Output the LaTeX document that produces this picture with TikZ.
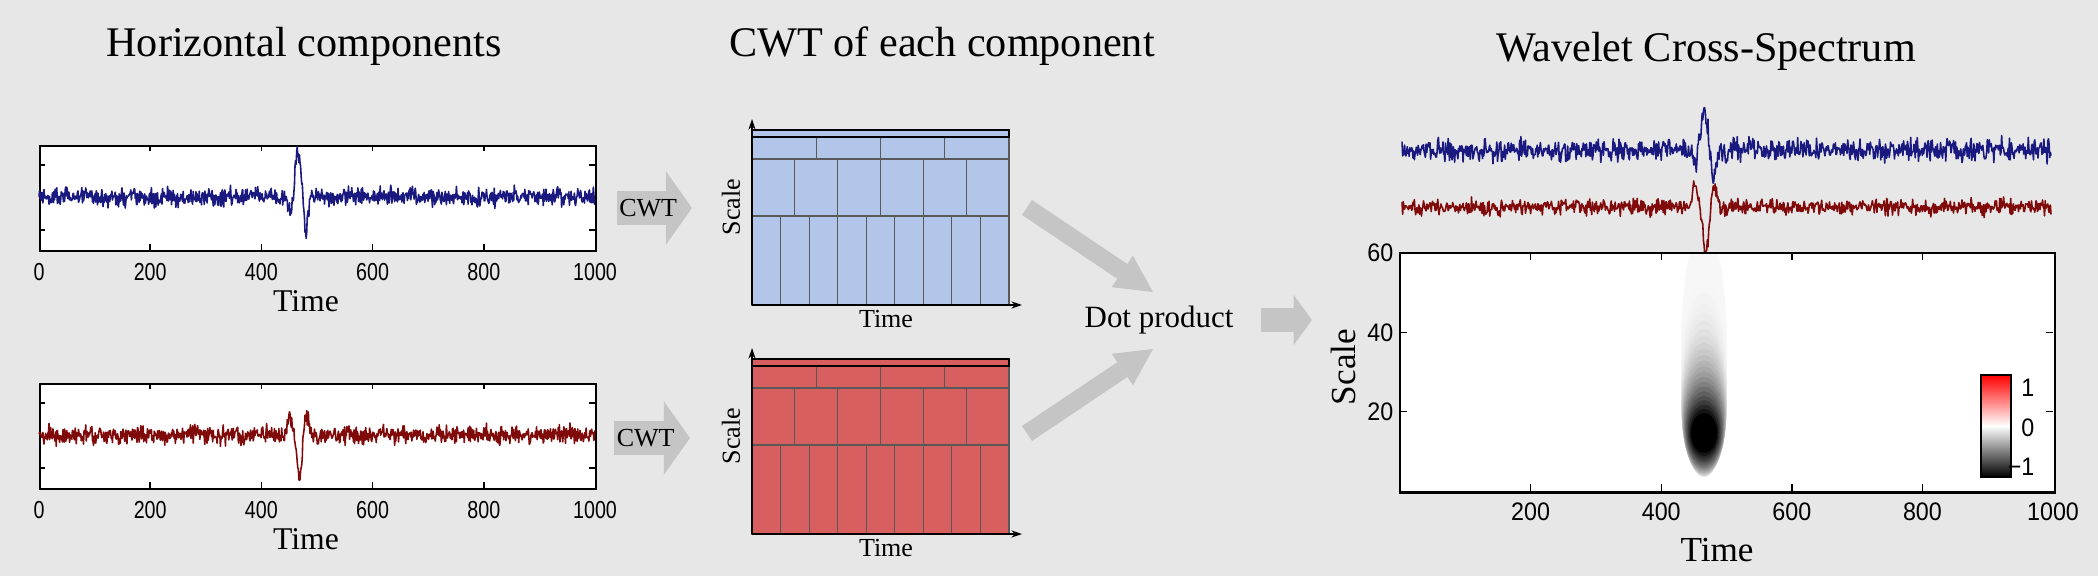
\documentclass[tikz,border=0pt]{standalone}
\usepackage{fontspec}
\setmainfont{Liberation Serif}
\newfontfamily\tickfont[FakeStretch=0.8]{Liberation Sans}
\newfontfamily\axisfont[FakeStretch=0.92]{Liberation Sans}
\usetikzlibrary{arrows.meta,positioning,calc}
\definecolor{bggray}{RGB}{231,231,231}
\definecolor{arrowgray}{RGB}{197,197,197}
\definecolor{traceblue}{RGB}{25,25,128}
\definecolor{tracered}{RGB}{128,10,10}
\definecolor{cwtblue}{RGB}{177,198,233}
\definecolor{cwtred}{RGB}{215,95,95}

\begin{document}
\begin{tikzpicture}[x=0.01cm, y=-0.01cm,
    headline/.style={font=\fontsize{12}{14}\selectfont, anchor=base},
    ticklab/.style={font=\tickfont\fontsize{7}{8}\selectfont},
    hmlab/.style={font=\axisfont\fontsize{7.2}{8}\selectfont},
    lab9/.style={font=\fontsize{9}{10}\selectfont},
    lab10/.style={font=\fontsize{10}{12}\selectfont},
    cwtlab/.style={font=\fontsize{7.4}{8}\selectfont},
    trace/.style={line width=0.45pt, line join=round},
    boxframe/.style={draw=black, line width=0.6pt, inner sep=0pt},
    cell/.style={draw=black!65, line width=0.3pt},
    band/.style={draw=black, line width=0.7pt},
    cwtaxis/.style={line width=0.5pt, -{Stealth[length=3pt,width=2pt]}},
    cwtarrow/.style={color=arrowgray, line width=9.4pt, -{Triangle[length=7.4pt,width=20.8pt,line width=0pt]}},
    diagarrow/.style={color=arrowgray, line width=5.1pt, -{Triangle[length=10.5pt,width=10.8pt,line width=0pt]}},
    outarrow/.style={color=arrowgray, line width=6.6pt, -{Triangle[length=5.2pt,width=14.2pt,line width=0pt]}},
    declare function={gb(\x,\m,\w)=exp(-min(((\x-\m)/\w)*((\x-\m)/\w),60));
      bspike(\x)=-43*gb(\x,466,7)+33*gb(\x,480,5)+15*gb(\x,452,5);
      rspike(\x)=46*gb(\x,468,6)-22*gb(\x,451,6)-20*gb(\x,481,6);}]

  % background
  \fill[bggray] (0,0) rectangle (2098,576);

  % titles
  \node[headline] (titleH) at (304,57) {Horizontal components};
  \node[headline] (titleC) at (942,57) {CWT of each component};
  \node[headline] (titleW) at (1706,62) {Wavelet Cross-Spectrum};

  % horizontal components
  \foreach \nm/\yt/\col/\sd/\spk in {A/145/traceblue/3/bspike, B/383/tracered/17/rspike}{
    \node[boxframe, fill=white, anchor=north west, minimum width=5.56cm, minimum height=1.05cm] (plot\nm) at (39,\yt) {};
    \foreach \t in {200,400,600,800}{
      \draw[line width=0.4pt] ({39+0.556*\t},\yt) -- ++(0,6);
      \draw[line width=0.4pt] ({39+0.556*\t},\yt+105) -- ++(0,-6);
    }
    \foreach \dy in {20,85}{
      \draw[line width=0.4pt] (39,\yt+\dy) -- ++(6,0);
      \draw[line width=0.4pt] (595,\yt+\dy) -- ++(-6,0);
    }
    \pgfmathsetseed{\sd}
    \draw[trace,\col] plot[domain=0:1000,samples=1000] ({39+0.556*\x},{\yt+52+4.5*(rand+rand+rand)+\spk(\x)});
    \foreach \t in {0,200,...,1000}
      \node[ticklab] (t\nm\t) at ({39+0.556*\t},\yt+127) {\t};
    \node[lab9] (time\nm) at (306,\yt+156) {Time};
  }

  % CWT arrows
  \coordinate (cA0) at (617,208);
  \coordinate (cA1) at (692,208);
  \coordinate (cB0) at (614,438);
  \coordinate (cB1) at (690,438);
  \draw[cwtarrow] (cA0) -- node[cwtlab,text=black,xshift=-1.8pt] (cwtA) {CWT} (cA1);
  \draw[cwtarrow] (cB0) -- node[cwtlab,text=black,xshift=-1.8pt] (cwtB) {CWT} (cB1);

  % CWT tilings
  \foreach \nm/\dy/\col in {B/0/cwtblue, R/229/cwtred}{
    \begin{scope}[shift={(0,\dy)}]
      \fill[\col] (752,130) rectangle (1009,305);
      \foreach \ya/\yb/\n in {137/159/4, 159/216/6, 216/305/9}
        \foreach \i in {1,...,\n}
          \draw[cell] ({752+257*(\i-1)/\n},\ya) rectangle ({752+257*\i/\n},\yb);
      \draw[band] (752,130) rectangle (1009,137);
      \draw[cwtaxis] (752,305) -- (752,119);
      \draw[cwtaxis] (752,305) -- (1022,305);
      \node[cwtlab] (time\nm) at (886,319) {Time};
      \node[cwtlab, rotate=90] (scale\nm) at (731,207) {Scale};
    \end{scope}
  }

  % dot product
  \node[font=\fontsize{8.8}{10}\selectfont, anchor=base] (dot) at (1159,327) {Dot product};
  \coordinate (dB) at (1027,207.5);
  \coordinate (dBt) at (1153,292);
  \coordinate (dR) at (1027,433.5);
  \coordinate (dRt) at (1153,349);
  \draw[diagarrow] (dB) -- (dBt);
  \draw[diagarrow] (dR) -- (dRt);
  \coordinate (o0) at (1261,320);
  \coordinate (o1) at (1312,320);
  \draw[outarrow] (o0) -- (o1);

  % wavelet cross-spectrum
  \pgfmathsetseed{5}
  \draw[trace,traceblue] plot[domain=0:1000,samples=1000] ({1402+0.649*\x},{150+5.5*(rand+rand+rand)+bspike(\x)});
  \pgfmathsetseed{23}
  \draw[trace,tracered] plot[domain=0:1000,samples=1000] ({1402+0.649*\x},{207+3.8*(rand+rand+rand)+rspike(\x)});

  \node[fill=white, inner sep=0pt, anchor=north west, minimum width=6.53cm, minimum height=2.38cm] (xspec) at (1400,253) {};
  \begin{scope}
    \clip (1400,253) rectangle (2053,491);
    \foreach \k in {0,...,23}{
      \pgfmathsetmacro\lv{\k/23}
      \pgfmathsetmacro\ytop{225+188*sqrt(\lv)}
      \pgfmathsetmacro\ybot{477-24*\lv*\lv*\lv}
      \pgfmathsetmacro\rx{23-10*\lv*\lv*\lv}
      \pgfmathsetmacro\dk{3+97*\lv*\lv}
      \fill[black!\dk] (1704,{(\ytop+\ybot)/2}) ellipse [x radius=\rx, y radius={(\ybot-\ytop)/2}];
    }
  \end{scope}
  \draw[line width=0.7pt] (xspec.north west) rectangle (xspec.south east);
  \foreach \t in {200,400,600,800}{
    \draw[line width=0.4pt] ({1400+0.653*\t},491) -- ++(0,-7);
    \draw[line width=0.4pt] ({1400+0.653*\t},253) -- ++(0,7);
  }
  \foreach \s in {20,40}{
    \draw[line width=0.4pt] (1400,{491-3.967*\s}) -- ++(7,0);
    \draw[line width=0.4pt] (2053,{491-3.967*\s}) -- ++(-7,0);
  }
  \foreach \t in {200,400,...,1000}
    \node[hmlab] (x\t) at ({1400+0.653*\t},512) {\t};
  \foreach \s in {20,40,60}
    \node[hmlab, anchor=east, inner sep=0pt] (y\s) at (1394,{491-3.967*\s}) {\s};
  \node[lab10, rotate=90] (scaleW) at (1343,367) {Scale};
  \node[lab10] (timeW) at (1717,550) {Time};

  % colour bar
  \node[draw, line width=0.4pt, top color=red, bottom color=black, middle color=white, minimum width=0.3cm, minimum height=1.02cm, inner sep=0pt] (cbar) at (1996,426) {};
  \node[hmlab, anchor=east, inner sep=0pt] (cb1) at (2035,388) {1};
  \node[hmlab, anchor=east, inner sep=0pt] (cb0) at (2035,428) {0};
  \node[hmlab, anchor=east, inner sep=0pt] (cbm) at (2035,467) {−1};
\end{tikzpicture}
\end{document}
